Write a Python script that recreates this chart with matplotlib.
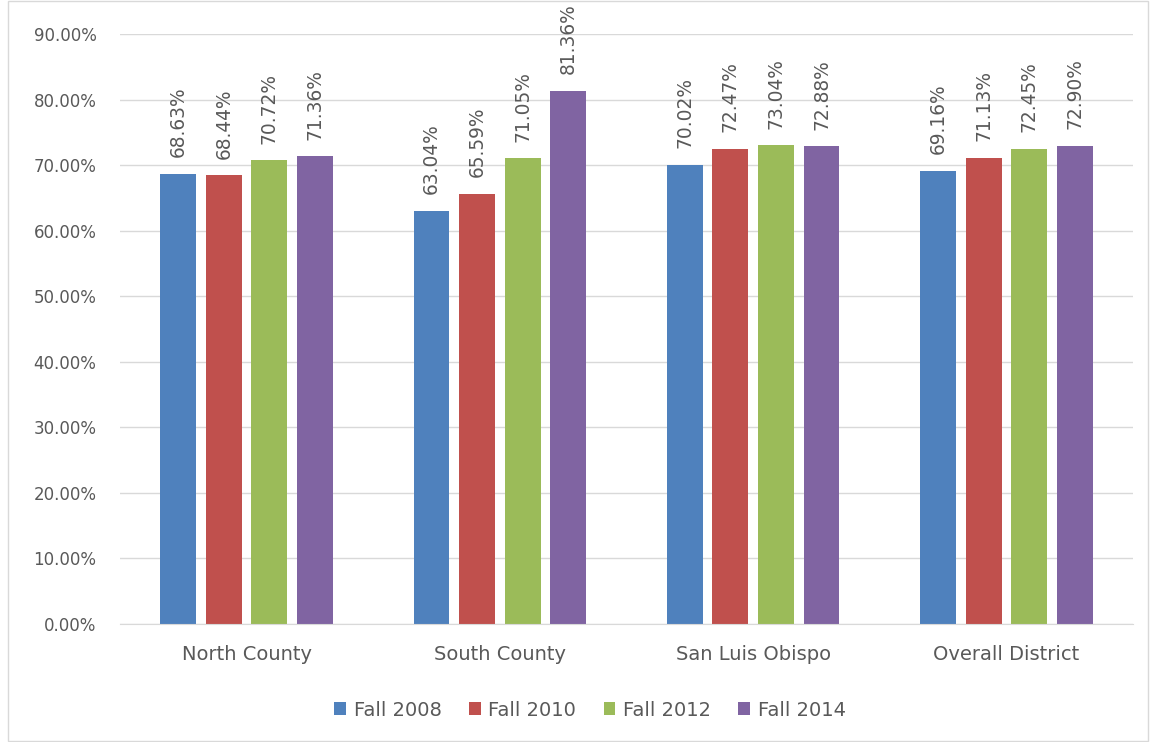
import numpy as np
import matplotlib.pyplot as plt
from matplotlib.patches import Rectangle

categories = ['North County', 'South County', 'San Luis Obispo', 'Overall District']
series = ['Fall 2008', 'Fall 2010', 'Fall 2012', 'Fall 2014']
values = [
    [68.63, 63.04, 70.02, 69.16],
    [68.44, 65.59, 72.47, 71.13],
    [70.72, 71.05, 73.04, 72.45],
    [71.36, 81.36, 72.88, 72.90],
]
colors = ['#4F81BD', '#C0504D', '#9BBB59', '#8064A2']
text_color = '#595959'


def main():
    fig = plt.figure(figsize=(11.5, 7.42), dpi=100)
    fig.patches.append(Rectangle((8 / 1150, 0.002), 1 - 10 / 1150, 0.996,
                                 transform=fig.transFigure, fill=False,
                                 edgecolor='#D9D9D9', linewidth=1))
    ax = fig.add_axes([120 / 1150, 1 - 624 / 742, 1013 / 1150, 590 / 742])

    x = np.arange(len(categories))
    width = 0.142
    step = 0.18
    for i, (name, vals) in enumerate(zip(series, values)):
        pos = x + (i - 1.5) * step
        bars = ax.bar(pos, np.array(vals) / 100, width, color=colors[i], label=name, zorder=2)
        for b, v in zip(bars, vals):
            ax.annotate(f'{v:.2f}%', (b.get_x() + b.get_width() / 2, b.get_height()),
                        xytext=(0, 12), textcoords='offset points', rotation=90,
                        ha='center', va='bottom', fontsize=13.4, color=text_color)

    ax.set_xlim(-0.5, len(categories) - 0.5)
    ax.set_ylim(0, 0.9)
    ticks = np.arange(0, 0.91, 0.1)
    ax.set_yticks(ticks)
    ax.set_yticklabels([f'{t * 100:.2f}%' for t in ticks])
    ax.set_xticks(x)
    ax.set_xticklabels(categories)
    ax.tick_params(axis='both', colors=text_color, length=0)
    ax.tick_params(axis='x', pad=15, labelsize=14)
    ax.tick_params(axis='y', pad=17, labelsize=12)
    ax.grid(axis='y', color='#D9D9D9', linewidth=1, zorder=0)
    for s in ['top', 'right', 'left']:
        ax.spines[s].set_visible(False)
    ax.spines['bottom'].set_color('#D9D9D9')

    ax.legend(loc='upper center', bbox_to_anchor=(0.464, -0.1), ncol=4, frameon=False,
              fontsize=14, handlelength=0.6, handleheight=0.6, columnspacing=1.4,
              handletextpad=0.4, labelcolor=text_color)

    plt.savefig('out.png', dpi=100)


if __name__ == '__main__':
    main()
